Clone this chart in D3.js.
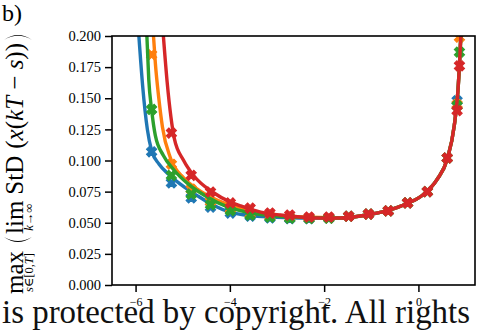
<!DOCTYPE html>
<html>
<head>
<meta charset="utf-8">
<script src="https://cdn.jsdelivr.net/npm/d3@7"></script>
<style>
  body { margin: 0; background: #fff; }
  svg { display: block; }
  text { font-family: "Liberation Serif", "DejaVu Serif", serif; fill: #000; }
</style>
</head>
<body>
<div id="chart"></div>
<script>
const xTicks = [-6, -4, -2, 0];
const yTicks = [0, 0.025, 0.05, 0.075, 0.1, 0.125, 0.15, 0.175, 0.2];
const seriesColors = ["#1f77b4", "#ff7f0e", "#2ca02c", "#d62728"];

// marker positions (x is log10), null = outside the view
const markX = [-5.66, -5.24, -4.82, -4.41, -3.99, -3.57, -3.15, -2.73, -2.32, -1.90,
               -1.48, -1.06, -0.64, -0.23, 0.19, 0.61, 0.82, 0.87];
const blueMarks = [0.107, 0.082, 0.070, 0.0625, 0.0578, 0.0552, 0.0538, 0.0532, 0.0532, 0.0536,
                   0.0552, 0.057, 0.0595, 0.066, 0.075, 0.102, 0.148, null];
const orangeMarks = [0.185, 0.097, 0.077, 0.067, 0.0612, 0.0572, 0.0552, 0.054, 0.0536, 0.0538,
                     0.0552, 0.057, 0.0595, 0.066, 0.075, 0.102, 0.145, 0.199];
const greenMarks = [0.141, 0.088, 0.073, 0.0645, 0.0598, 0.0562, 0.0545, 0.0536, 0.0534, 0.0537,
                    0.0552, 0.057, 0.0595, 0.066, 0.075, 0.102, 0.144, 0.187];
const redMarks = [null, 0.122, 0.088, 0.0747, 0.0659, 0.0618, 0.0578, 0.0562, 0.0546, 0.0546,
                  0.0552, 0.057, 0.0595, 0.066, 0.075, 0.102, 0.140, 0.176];

// fitted curves, left branch per series + shared right branch
const blueFitX = [-5.93, -5.85, -5.75, -5.66, -5.50, -5.30, -5.05, -4.70, -4.35, -4.00, -3.50, -3.00, -2.50, -2.00];
const blueFitY = [0.200, 0.160, 0.125, 0.108, 0.097, 0.089, 0.081, 0.072, 0.064, 0.0585, 0.0555, 0.0543, 0.0538, 0.0538];
const orangeFitX = [-5.62, -5.58, -5.51, -5.43, -5.26, -4.98, -4.69, -4.26, -3.80, -3.30, -2.80, -2.30, -2.00];
const orangeFitY = [0.200, 0.178, 0.151, 0.127, 0.102, 0.086, 0.077, 0.068, 0.062, 0.0578, 0.0552, 0.0545, 0.0542];
const greenFitX = [-5.76, -5.72, -5.66, -5.58, -5.41, -5.20, -4.88, -4.48, -4.05, -3.50, -3.00, -2.50, -2.00];
const greenFitY = [0.200, 0.165, 0.141, 0.120, 0.104, 0.093, 0.081, 0.0707, 0.0627, 0.0575, 0.0553, 0.0543, 0.0540];
const redFitX = [-5.41, -5.33, -5.25, -5.18, -4.98, -4.77, -4.37, -3.99, -3.77, -3.35, -2.93, -2.51, -2.08];
const redFitY = [0.200, 0.163, 0.135, 0.118, 0.100, 0.088, 0.0747, 0.0667, 0.0635, 0.0586, 0.0562, 0.0546, 0.0538];
const rightFitX = [-1.66, -1.17, -0.66, -0.24, 0.10, 0.40, 0.61, 0.76, 0.84, 0.90];
const rightFitY = [0.0538, 0.0558, 0.0598, 0.0655, 0.0725, 0.085, 0.101, 0.128, 0.157, 0.200];

const series = [
  [blueMarks, blueFitX, blueFitY],
  [orangeMarks, orangeFitX, orangeFitY],
  [greenMarks, greenFitX, greenFitY],
  [redMarks, redFitX, redFitY]
].map(([marks, fx, fy], i) => ({
  color: seriesColors[i],
  marks: markX.map((v, j) => [v, marks[j]]).filter(d => d[1] != null),
  fit: fx.concat(rightFitX).map((v, j) => [v, fy.concat(rightFitY)[j]])
}));

const width = 477, height = 332;
const plotLeft = 112, plotRight = 475, plotTop = 36, plotBottom = 285;

const svg = d3.select("#chart").append("svg")
  .attr("width", width)
  .attr("height", height);

const x = d3.scaleLinear().domain([-6.5, 1.2]).range([plotLeft, plotRight]);
const y = d3.scaleLinear().domain([0, 0.2]).range([plotBottom, plotTop]);

svg.append("clipPath").attr("id", "plot-clip")
  .append("rect")
  .attr("x", plotLeft).attr("y", plotTop)
  .attr("width", plotRight - plotLeft).attr("height", plotBottom - plotTop);

const plot = svg.append("g").attr("clip-path", "url(#plot-clip)");

const line = d3.line()
  .x(d => x(d[0]))
  .y(d => y(d[1]))
  .curve(d3.curveMonotoneX);

const marker = d3.symbol().type(d3.symbolCross).size(66);

for (const s of series) {
  plot.append("path")
    .datum(s.fit)
    .attr("d", line)
    .attr("fill", "none")
    .attr("stroke", s.color)
    .attr("stroke-width", 3.4)
    .attr("stroke-linecap", "round");

  plot.selectAll(null)
    .data(s.marks)
    .enter().append("path")
    .attr("d", marker)
    .attr("transform", d => `translate(${x(d[0])},${y(d[1])}) rotate(45)`)
    .attr("fill", s.color)
    .attr("stroke", s.color)
    .attr("stroke-width", 1);
}

const yAxis = svg.append("g")
  .attr("transform", `translate(${plotLeft},0)`)
  .call(d3.axisLeft(y).tickValues(yTicks).tickFormat(d3.format(".3f")).tickSize(7).tickPadding(4));

const xAxis = svg.append("g")
  .attr("transform", `translate(0,${plotBottom})`)
  .call(d3.axisBottom(x).tickValues(xTicks).tickFormat(d3.format("d")).tickSize(7).tickPadding(5));

for (const ax of [yAxis, xAxis]) {
  ax.select(".domain").remove();
  ax.selectAll(".tick line").attr("stroke", "#000").attr("stroke-width", 1.5);
  ax.selectAll(".tick text").attr("fill", "#000").style("font-family", '"Liberation Serif", serif');
}
yAxis.selectAll(".tick text").style("font-size", "14.5px");
xAxis.selectAll(".tick text").style("font-size", "12px");

svg.append("rect")
  .attr("x", plotLeft).attr("y", plotTop)
  .attr("width", plotRight - plotLeft).attr("height", plotBottom - plotTop)
  .attr("fill", "none")
  .attr("stroke", "#000")
  .attr("stroke-width", 1.6);

// y label, laid out piece by piece along the rotated baseline
const yLabelOuter = svg.append("g").attr("transform", "translate(23,162) rotate(-90)");
const yLabel = yLabelOuter.append("g");
const mainSize = 25, subSize = 12.5;
let u = 0;

function richText(parts, size) {
  const t = yLabel.append("text").style("font-size", size + "px");
  for (const [str, it] of parts) {
    t.append("tspan").style("font-style", it ? "italic" : "normal").text(str);
  }
  return t;
}

function op(main, subParts) {
  const t = richText([[main, false]], mainSize);
  const s = richText(subParts, subSize);
  const w = t.node().getComputedTextLength();
  const ws = s.node().getComputedTextLength();
  const bw = Math.max(w, ws);
  t.attr("x", u + (bw - w) / 2);
  s.attr("x", u + (bw - ws) / 2).attr("y", 10);
  u += bw;
}

function paren(open) {
  const w = 5, pTop = -19, pBot = 9, mid = (pTop + pBot) / 2;
  const a = open ? u + w * 2 : u;
  const b = open ? u : u + w * 2;
  const b2 = open ? u + 1.8 : u + w * 2 - 1.8;
  yLabel.append("path")
    .attr("d", `M${a},${pTop} Q${b},${mid} ${a},${pBot} Q${b2},${mid} ${a},${pTop}Z`)
    .attr("fill", "#000");
  u += w * 2;
}

function plain(parts) {
  const t = richText(parts, mainSize).attr("x", u);
  u += t.node().getComputedTextLength();
}

op("max", [["s", true], ["\u2208[0,", false], ["T", true], ["]", false]]);
u += 4;
paren(true);
u += 3;
op("lim", [["k", true], ["\u2192\u221E", false]]);
u += 6;
plain([["StD", false]]);
u += 7;
plain([["(", false], ["x", true], ["(", false], ["kT", true], [" \u2212 ", false], ["s", true], ["))", false]]);
u += 3;
paren(false);
yLabel.attr("transform", `translate(${-u / 2},0)`);

svg.append("text")
  .attr("x", 2).attr("y", 21)
  .style("font-size", "24px")
  .text("b)");

svg.append("text")
  .attr("x", (plotLeft + plotRight) / 2).attr("y", 323)
  .attr("text-anchor", "middle")
  .style("font-size", "14px")
  .style("font-style", "italic")
  .text("\u03B5");

svg.append("text")
  .attr("x", 2).attr("y", 323)
  .attr("textLength", 468)
  .attr("lengthAdjust", "spacingAndGlyphs")
  .style("font-size", "33px")
  .style("fill", "#111")
  .text("is protected by copyright. All rights");
</script>
</body>
</html>
